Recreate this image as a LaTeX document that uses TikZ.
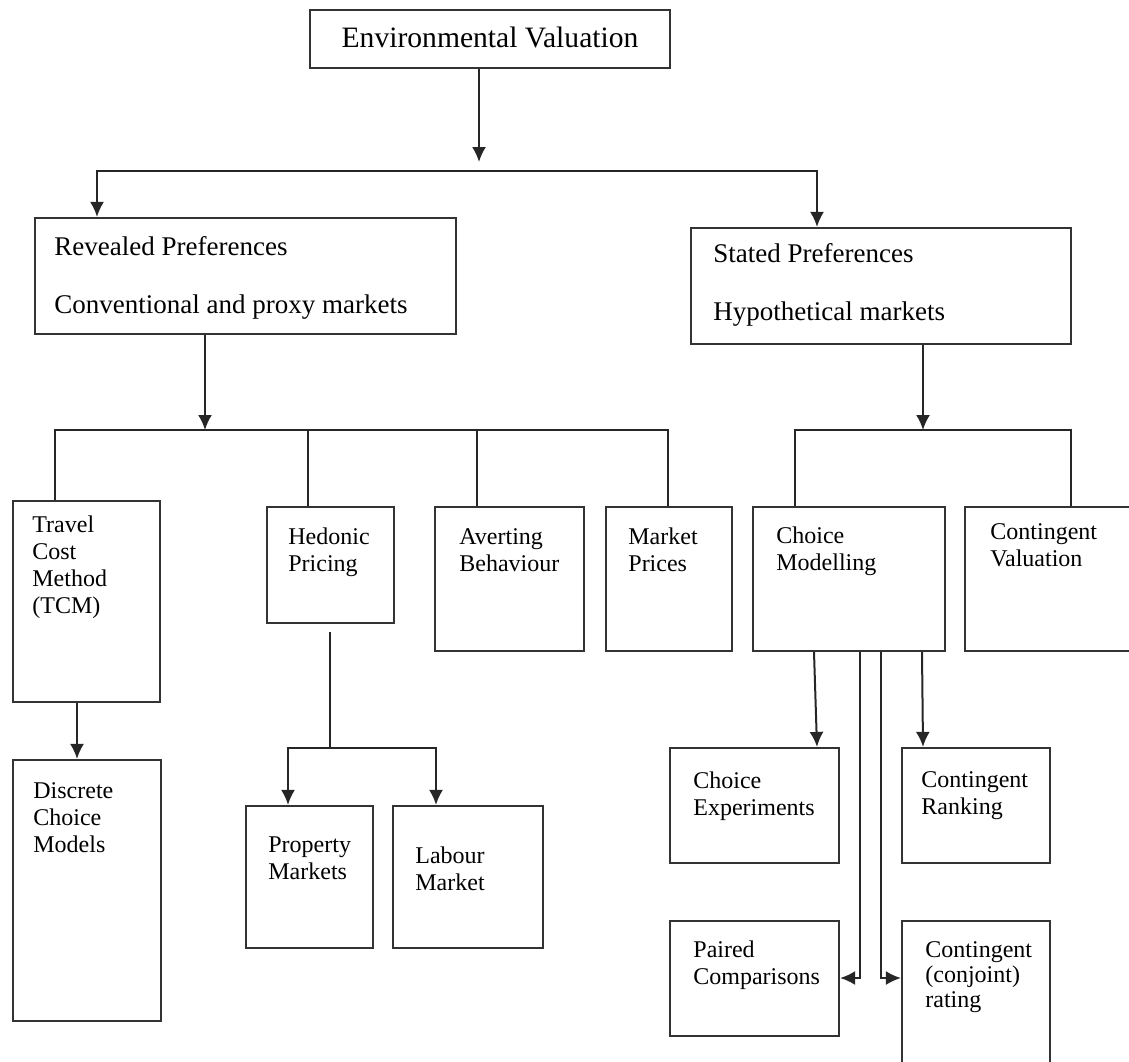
\documentclass[tikz,border=0pt]{standalone}
\usepackage{fontspec}
\setmainfont{Liberation Serif}
\usetikzlibrary{arrows.meta,fit}
\tikzset{
  bx/.style={draw=black!80, line width=1.1pt, inner sep=0pt},
  tx/.style={anchor=base west, inner sep=0pt, font=\fontsize{12}{13.5}\selectfont},
  big/.style={anchor=base west, inner sep=0pt, font=\fontsize{13.5}{29}\selectfont},
  ln/.style={line width=1pt, draw=black!85},
  arr/.style={ln, -{Latex[length=7.5pt,width=7pt]}},
  dbl/.style={ln, {Latex[length=7.5pt,width=7pt]}-{Latex[length=7.5pt,width=7pt]}}
}
\begin{document}
\begin{tikzpicture}[x=0.5pt,y=-0.5pt]
\useasboundingbox (0,0) rectangle (1129,1061);
\clip (0,0) rectangle (1129,1061);

% boxes
\node[bx, fit={(310,10) (670,68)}] (env) {};
\node[bx, fit={(35,218) (456,334)}] (rev) {};
\node[bx, fit={(691,228) (1071,344)}] (sta) {};
\node[bx, fit={(13,501) (160,702)}] (tcm) {};
\node[bx, fit={(267,507) (394,623)}] (hed) {};
\node[bx, fit={(435,507) (584,651)}] (ave) {};
\node[bx, fit={(606,507) (732,651)}] (mkt) {};
\node[bx, fit={(753,507) (945,651)}] (cm) {};
\node[bx, fit={(965,507) (1135,651)}] (cv) {};
\node[bx, fit={(13,760) (161,1021)}] (dcm) {};
\node[bx, fit={(246,806) (373,948)}] (pro) {};
\node[bx, fit={(393,806) (543,948)}] (lab) {};
\node[bx, fit={(670,748) (839,863)}] (ce) {};
\node[bx, fit={(902,748) (1050,863)}] (cr) {};
\node[bx, fit={(670,921) (839,1036)}] (pc) {};
\node[bx, fit={(902,921) (1050,1075)}] (crt) {};

% texts
\node[anchor=base, inner sep=0pt, font=\fontsize{14.8}{16}\selectfont] (envt) at (490,47) {Environmental Valuation};
\node[big] (revt) at (54,255) {\vtop{\hbox{Revealed Preferences}\hbox{Conventional and proxy markets}}};
\node[big] (stat) at (713,262) {\vtop{\hbox{Stated Preferences}\hbox{Hypothetical markets}}};
\node[tx] (tcmt) at (32,532) {\vtop{\hbox{Travel}\hbox{Cost}\hbox{Method}\hbox{(TCM)}}};
\node[tx] (hedt) at (288,544) {\vtop{\hbox{Hedonic}\hbox{Pricing}}};
\node[tx] (avet) at (459,544) {\vtop{\hbox{Averting}\hbox{Behaviour}}};
\node[tx] (mktt) at (628,544) {\vtop{\hbox{Market}\hbox{Prices}}};
\node[tx] (cmt) at (776,543) {\vtop{\hbox{Choice}\hbox{Modelling}}};
\node[tx] (cvt) at (990,539) {\vtop{\hbox{Contingent}\hbox{Valuation}}};
\node[tx] (dcmt) at (33,798) {\vtop{\hbox{Discrete}\hbox{Choice}\hbox{Models}}};
\node[tx] (prot) at (268,852) {\vtop{\hbox{Property}\hbox{Markets}}};
\node[tx] (labt) at (415,863) {\vtop{\hbox{Labour}\hbox{Market}}};
\node[tx] (cet) at (693,788) {\vtop{\hbox{Choice}\hbox{Experiments}}};
\node[tx] (crtt) at (921,787) {\vtop{\hbox{Contingent}\hbox{Ranking}}};
\node[tx] (pct) at (693,957) {\vtop{\hbox{Paired}\hbox{Comparisons}}};
\node[tx, font=\fontsize{12}{12.6}\selectfont] (crtt2) at (925,957) {\vtop{\hbox{Contingent}\hbox{(conjoint)}\hbox{rating}}};

% helper coordinates
\coordinate (t1) at (479,162);
\coordinate (h1L) at (97,171);
\coordinate (h1R) at (817,171);
\coordinate (t2) at (205,430);
\coordinate (h2L) at (55,430);
\coordinate (h2R) at (668,430);
\coordinate (v2a) at (308,430);
\coordinate (v2b) at (477,430);
\coordinate (t3) at (923,430);
\coordinate (h3L) at (795,430);
\coordinate (h3R) at (1071,430);
\coordinate (xd) at (77,0);
\coordinate (hv) at (330,632);
\coordinate (hj) at (330,748);
\coordinate (hL) at (288,748);
\coordinate (hR) at (436,748);
\coordinate (c1a) at (814,0);
\coordinate (c1b) at (817,0);
\coordinate (c2a) at (922,0);
\coordinate (c2b) at (923,0);
\coordinate (c3) at (860,978);
\coordinate (c4) at (881,978);

% connectors
\draw[arr] (env.south -| t1) -- (t1);
\draw[dbl] (rev.north -| h1L) |- (h1R) -- (sta.north -| h1R);
\draw[arr] (rev.south -| t2) -- (t2);
\draw[ln] (tcm.north -| h2L) |- (h2R) -- (mkt.north -| h2R);
\draw[ln] (v2a) -- (hed.north -| v2a);
\draw[ln] (v2b) -- (ave.north -| v2b);
\draw[arr] (sta.south -| t3) -- (t3);
\draw[ln] (cm.north -| h3L) |- (h3R) -- (cv.north -| h3R);
\draw[arr] (tcm.south -| xd) -- (dcm.north -| xd);
\draw[ln] (hv) -- (hj);
\draw[dbl] (pro.north -| hL) |- (hR) -- (lab.north -| hR);
\draw[arr] (cm.south -| c1a) -- (ce.north -| c1b);
\draw[arr] (cm.south -| c2a) -- (cr.north -| c2b);
\draw[arr] (cm.south -| c3) |- (pc.east |- c3);
\draw[arr] (cm.south -| c4) |- (crt.west |- c4);
\end{tikzpicture}
\end{document}
